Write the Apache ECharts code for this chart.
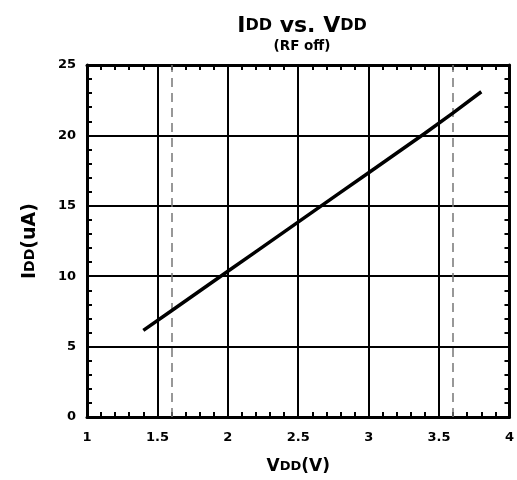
<!DOCTYPE html>
<html>
<head>
<meta charset="utf-8">
<script src="https://cdn.jsdelivr.net/npm/echarts@6/dist/echarts.min.js"></script>
<style>
    html, body { margin: 0; padding: 0; background: #fff; }
    #chart { width: 517px; height: 480px; }
</style>
</head>
<body>
<div id="chart"></div>
<script>
// supply voltage (V) and supply current (uA)
var vdd = [1.4, 1.6, 1.8, 2.0, 2.2, 2.4, 2.6, 2.8, 3.0, 3.2, 3.4, 3.6, 3.8];
var idd = [6.15, 7.55, 8.95, 10.35, 11.75, 13.15, 14.55, 15.95, 17.35, 18.75, 20.15, 21.6, 23.1];
// dashed limits of the operating range
var vddLimits = [1.6, 3.6];

var fontFam = '"DejaVu Sans", sans-serif';

var chart = echarts.init(document.getElementById('chart'));

var baseAxis = {
    axisLine: { show: true, onZero: false, lineStyle: { color: '#000', width: 3 } },
    axisTick: { show: true, inside: true, length: 5, lineStyle: { color: '#000', width: 2 } },
    minorTick: { show: true, splitNumber: 5, length: 5, lineStyle: { color: '#000', width: 2 } },
    splitLine: { show: false }
};

var option = {
    backgroundColor: '#fff',
    animation: false,
    title: {
        text: 'I{s|DD} vs. V{s|DD}',
        subtext: '(RF off)',
        left: 297,
        textAlign: 'center',
        top: 10,
        itemGap: 2,
        textStyle: {
            fontFamily: fontFam,
            fontSize: 22,
            fontWeight: 'bold',
            color: '#000',
            rich: {
                s: { fontFamily: fontFam, fontSize: 16, fontWeight: 'bold', color: '#000' }
            }
        },
        subtextStyle: {
            fontFamily: fontFam,
            fontSize: 13.5,
            fontWeight: 'bold',
            color: '#000'
        }
    },
    grid: {
        left: 87,
        right: 6,
        top: 65,
        bottom: 62,
        containLabel: false
    },
    xAxis: [
        Object.assign({}, baseAxis, {
            type: 'value',
            min: 1,
            max: 4,
            interval: 0.5,
            position: 'bottom',
            name: 'V{s|DD}(V)',
            nameLocation: 'middle',
            nameGap: 41,
            nameTextStyle: {
                fontFamily: fontFam, fontSize: 17, fontWeight: 'bold', color: '#000',
                rich: { s: { fontFamily: fontFam, fontSize: 13, fontWeight: 'bold', color: '#000' } }
            },
            axisLabel: {
                margin: 14,
                fontFamily: fontFam, fontSize: 13, fontWeight: 'bold', color: '#000',
                formatter: function (v) { return String(v); }
            },
            splitLine: { show: true, lineStyle: { color: '#000', width: 2 } }
        }),
        Object.assign({}, baseAxis, {
            type: 'value',
            min: 1,
            max: 4,
            interval: 0.5,
            position: 'top',
            axisLabel: { show: false }
        })
    ],
    yAxis: [
        Object.assign({}, baseAxis, {
            type: 'value',
            min: 0,
            max: 25,
            interval: 5,
            position: 'left',
            name: 'I{s|DD}(uA)',
            nameLocation: 'middle',
            nameGap: 47,
            nameTextStyle: {
                fontFamily: fontFam, fontSize: 19, fontWeight: 'bold', color: '#000',
                rich: { s: { fontFamily: fontFam, fontSize: 14, fontWeight: 'bold', color: '#000' } }
            },
            axisLabel: {
                margin: 11,
                fontFamily: fontFam, fontSize: 13, fontWeight: 'bold', color: '#000'
            },
            splitLine: { show: true, lineStyle: { color: '#000', width: 2 } }
        }),
        Object.assign({}, baseAxis, {
            type: 'value',
            min: 0,
            max: 25,
            interval: 5,
            position: 'right',
            axisLabel: { show: false }
        })
    ],
    series: [
        {
            type: 'line',
            data: vdd.map(function (v, i) { return [v, idd[i]]; }),
            showSymbol: false,
            lineStyle: { color: '#000', width: 3.5 },
            z: 5,
            markLine: {
                silent: true,
                symbol: 'none',
                label: { show: false },
                lineStyle: { color: '#777', width: 1.5, type: [9, 6] },
                data: vddLimits.map(function (v) { return { xAxis: v }; })
            }
        }
    ]
};

chart.setOption(option);
</script>
</body>
</html>
